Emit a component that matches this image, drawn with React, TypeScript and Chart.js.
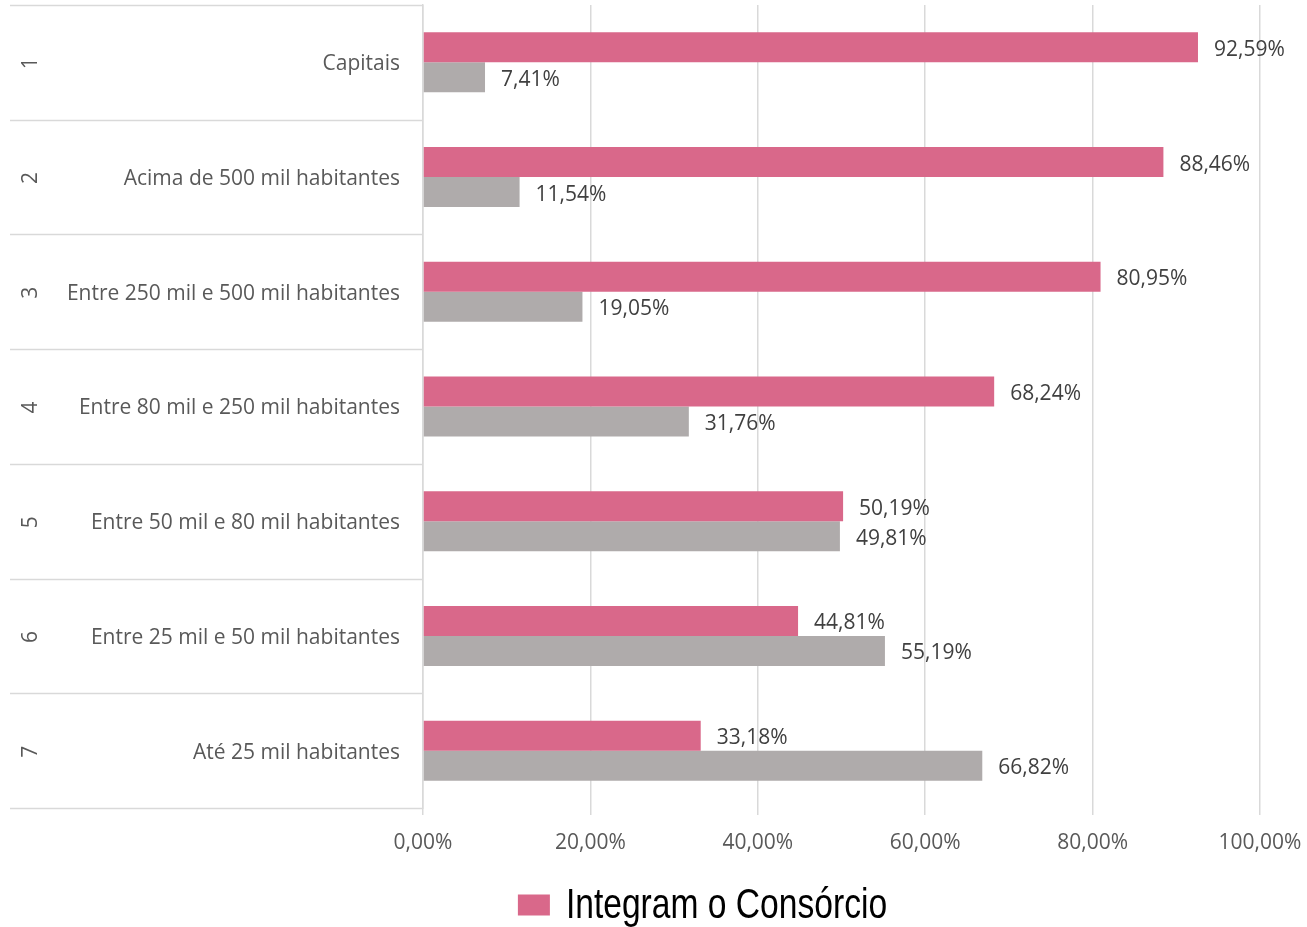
import { useEffect, useRef } from 'react';
import { Chart, registerables } from 'chart.js';

Chart.register(...registerables);

const categories = [
  'Capitais',
  'Acima de 500 mil habitantes',
  'Entre 250 mil e 500 mil habitantes',
  'Entre 80 mil e 250 mil habitantes',
  'Entre 50 mil e 80 mil habitantes',
  'Entre 25 mil e 50 mil habitantes',
  'Até 25 mil habitantes',
];
const groupNumbers = ['1', '2', '3', '4', '5', '6', '7'];
const integram = [92.59, 88.46, 80.95, 68.24, 50.19, 44.81, 33.18];
const naoIntegram = [7.41, 11.54, 19.05, 31.76, 49.81, 55.19, 66.82];
const seriesLabels = ['Integram o Consórcio', 'Não integram o Consórcio'];
const seriesColors = ['#D9688A', '#AFABAB'];
const xMin = 0;
const xMax = 100;
const xStep = 20;

const fmt = (v: number) => v.toFixed(2).replace('.', ',') + '%';

const BASE_FONT = '"Open Sans", "Noto Sans", sans-serif';
const LEGEND_FONT = '"Liberation Sans", Arial, sans-serif';

const separators = {
  id: 'separators',
  beforeDatasetsDraw(chart: any) {
    const y = chart.scales.y;
    const yn = chart.scales.yNum;
    const ctx = chart.ctx;
    ctx.save();
    ctx.strokeStyle = '#d9d9d9';
    ctx.lineWidth = 1.5;
    for (let i = 0; i <= categories.length; i++) {
      const py = Math.round(y.getPixelForValue(i - 0.5)) + 0.5;
      ctx.beginPath();
      ctx.moveTo(yn.left, py);
      ctx.lineTo(chart.chartArea.left, py);
      ctx.stroke();
    }
    ctx.restore();
  },
};

const valueLabels = {
  id: 'valueLabels',
  afterDatasetsDraw(chart: any) {
    const ctx = chart.ctx;
    ctx.save();
    ctx.font = '21px ' + BASE_FONT;
    ctx.fillStyle = '#404040';
    ctx.textBaseline = 'middle';
    ctx.textAlign = 'left';
    chart.data.datasets.forEach((ds: any, di: number) => {
      chart.getDatasetMeta(di).data.forEach((bar: any, i: number) => {
        ctx.fillText(fmt(ds.data[i]), bar.x + 16, bar.y + 2.5);
      });
    });
    ctx.restore();
  },
};

// Narrow legend (only the first series is visible in the reference)
const narrowLegend = {
  id: 'narrowLegend',
  afterDraw(chart: any) {
    const ctx = chart.ctx;
    const text = seriesLabels[0];
    const scaleX = 0.8;
    ctx.save();
    ctx.font = '42px ' + LEGEND_FONT;
    const tw = ctx.measureText(text).width * scaleX;
    const boxW = 32;
    const boxH = 21;
    const gap = 16;
    const total = boxW + gap + tw;
    const cx = 702.5;
    const cy = 905;
    const left = cx - total / 2;
    ctx.fillStyle = seriesColors[0];
    ctx.fillRect(left, cy - boxH / 2, boxW, boxH);
    ctx.translate(left + boxW + gap, cy);
    ctx.scale(scaleX, 1);
    ctx.fillStyle = '#000000';
    ctx.textBaseline = 'middle';
    ctx.textAlign = 'left';
    ctx.fillText(text, 0, 1);
    ctx.restore();
  },
};

export default function App() {
  const ref = useRef<HTMLCanvasElement | null>(null);

  useEffect(() => {
    document.body.style.margin = '0';
    document.body.style.overflow = 'hidden';
    if (!ref.current) return;
    const chart = new Chart(ref.current, {
      type: 'bar',
      data: {
        labels: categories,
        datasets: [
          {
            label: seriesLabels[0],
            data: integram,
            backgroundColor: seriesColors[0],
            categoryPercentage: 0.523,
            barPercentage: 1,
          },
          {
            label: seriesLabels[1],
            data: naoIntegram,
            backgroundColor: seriesColors[1],
            categoryPercentage: 0.523,
            barPercentage: 1,
          },
        ],
      },
      options: {
        indexAxis: 'y',
        responsive: false,
        animation: false,
        events: [],
        layout: { padding: { left: 10, right: 47, top: 5, bottom: 61 } },
        scales: {
          x: {
            type: 'linear',
            min: xMin,
            max: xMax,
            ticks: {
              stepSize: xStep,
              callback: (v: any) => fmt(Number(v)),
              font: { family: BASE_FONT, size: 21 },
              color: '#595959',
              padding: 15,
            },
            grid: { color: '#d9d9d9', lineWidth: 1.5, tickLength: 7 },
            border: { display: false },
            afterFit: (s: any) => {
              s.height = 58;
              s.paddingLeft = 0;
              s.paddingRight = 0;
            },
          },
          y: {
            type: 'category',
            position: 'left',
            weight: 0,
            ticks: {
              font: { family: BASE_FONT, size: 21 },
              color: '#595959',
              padding: 23,
              labelOffset: 2,
              autoSkip: false,
            },
            grid: { display: false, drawTicks: false },
            border: { display: true, color: '#d9d9d9', width: 1.5 },
            afterFit: (s: any) => {
              s.width = 373;
              s.paddingTop = 0;
              s.paddingBottom = 0;
            },
          },
          yNum: {
            type: 'category',
            position: 'left',
            weight: 1,
            labels: groupNumbers,
            offset: true,
            ticks: {
              font: { family: BASE_FONT, size: 21 },
              color: '#595959',
              minRotation: 90,
              maxRotation: 90,
              crossAlign: 'center',
              padding: 13,
              labelOffset: 1,
              autoSkip: false,
            },
            grid: { display: false, drawTicks: false },
            border: { display: false },
            afterFit: (s: any) => {
              s.width = 40;
              s.paddingTop = 0;
              s.paddingBottom = 0;
            },
          },
        },
        plugins: {
          legend: { display: false },
          tooltip: { enabled: false },
        },
      } as any,
      plugins: [separators, valueLabels, narrowLegend],
    });
    return () => chart.destroy();
  }, []);

  return (
    <div style={{ width: 1307, height: 927 }}>
      <canvas ref={ref} width={1307} height={927} style={{ display: 'block' }} />
    </div>
  );
}
